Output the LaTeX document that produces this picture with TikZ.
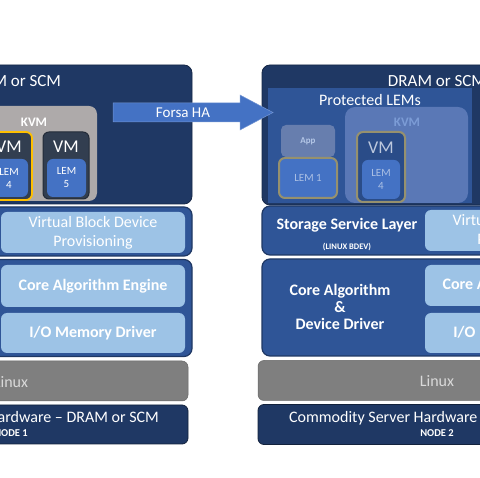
\documentclass[tikz,border=0pt]{standalone}
\usepackage{fontspec}
\setmainfont{Carlito}
\usetikzlibrary{positioning}

\definecolor{navy}{RGB}{31,56,100}
\definecolor{midblue}{RGB}{47,85,151}
\definecolor{lightblue}{RGB}{157,195,230}
\definecolor{lemblue}{RGB}{68,114,196}
\definecolor{kvmgrey}{RGB}{174,170,170}
\definecolor{vmdark}{RGB}{50,62,80}
\definecolor{linuxgrey}{RGB}{127,127,127}
\definecolor{lemgold}{RGB}{255,192,0}
\definecolor{khaki}{RGB}{150,145,110}
\definecolor{fadeblue}{RGB}{90,120,182}

\tikzset{
	box/.style={rectangle, inner sep=0pt, outer sep=0pt},
	memory/.style={box, rounded corners=8pt, draw=navy!70!black, line width=0.8pt, fill=navy},
	layer/.style={box, rounded corners=8pt, draw=navy, line width=1.2pt, fill=midblue},
	lightbox/.style={box, rounded corners=6pt, fill=lightblue, text=white, align=center, font=\fontsize{16}{19}\selectfont},
	boldbox/.style={lightbox, font=\fontsize{16}{19}\bfseries},
	linuxbox/.style={box, rounded corners=6pt, fill=linuxgrey, draw=linuxgrey!80!black, line width=0.5pt},
	hwbox/.style={box, rounded corners=6pt, fill=navy, draw=navy!60!black, line width=0.8pt},
	vmbox/.style={box, rounded corners=6pt, fill=vmdark, draw=vmdark!70!black, line width=1pt},
	lembox/.style={box, rounded corners=6pt, fill=lemblue, align=center, font=\fontsize{11}{13}\selectfont},
	txt/.style={inner sep=0pt, text=white, align=center},
}

\begin{document}
\begin{tikzpicture}[x=1pt, y=-1pt]
	\useasboundingbox (0,0) rectangle (480,478);
	\clip (0,0) rectangle (480,478);

	% node 1 (left)
	\node[memory, minimum width=355pt, minimum height=139pt] (mem1) at (14.5,134.5) {};
	\node[txt, font=\fontsize{17}{19}\selectfont] (dram1) at (12,81) {DRAM or SCM};
	\node[box, rounded corners=8pt, fill=kvmgrey, minimum width=125pt, minimum height=95pt] (kvm1) at (34.5,153.5) {};
	\node[txt, font=\fontsize{13}{15}\bfseries] (kvmlbl1) at (34,122) {KVM};
	\node[vmbox, draw=lemgold, line width=1.8pt, minimum width=46pt, minimum height=68pt] (vma) at (9,166) {};
	\node[txt, font=\fontsize{18}{20}\selectfont] (vmlbla) at (9,147) {VM};
	\node[lembox, text=white, minimum width=38pt, minimum height=38pt] (lema) at (9,178) {LEM\\4};
	\node[vmbox, minimum width=46pt, minimum height=67pt] (vmb) at (66,165.5) {};
	\node[txt, font=\fontsize{18}{20}\selectfont] (vmlblb) at (66,147) {VM};
	\node[lembox, text=white, minimum width=39pt, minimum height=38pt] (lemb) at (66.5,178) {LEM\\5};

	\node[layer, minimum width=355pt, minimum height=49pt] (vbdout1) at (14.5,231.5) {};
	\node[lightbox, minimum width=184pt, minimum height=41pt] (vbd1) at (93,232.5) {Virtual Block Device\\Provisioning};
	\node[layer, minimum width=355pt, minimum height=97pt] (coreout1) at (14.5,308) {};
	\node[boldbox, minimum width=184pt, minimum height=42pt] (engine1) at (93,286) {Core Algorithm Engine};
	\node[boldbox, minimum width=184pt, minimum height=40pt] (driver1) at (93,333) {I/O Memory Driver};
	\node[linuxbox, minimum width=355pt, minimum height=40pt] (linux1) at (10.5,381) {};
	\node[txt, text=white!85!black, font=\fontsize{16}{18}\selectfont] (linuxlbl1) at (11,382) {Linux};
	\node[hwbox, minimum width=355pt, minimum height=39pt] (hw1) at (10.5,424.5) {};
	\node[txt, font=\fontsize{16}{18}\selectfont] (hwlbl1) at (11,418) {Commodity Server Hardware -- DRAM or SCM};
	\node[txt, font=\fontsize{10.5}{12}\bfseries] (nodelbl1) at (11,433.5) {NODE 1};

	% node 2 (right)
	\node[memory, minimum width=355pt, minimum height=140pt] (mem2) at (439.5,135) {};
	\node[txt, font=\fontsize{17}{19}\selectfont] (dram2) at (437,81) {DRAM or SCM};
	\node[box, fill=midblue, minimum width=204pt, minimum height=115pt] (prot) at (370,145.5) {};
	\node[txt, font=\fontsize{16}{18}\selectfont] (protlbl) at (370,100) {Protected LEMs};
	\node[box, rounded corners=5pt, fill=fadeblue!85!white!90!black, text=lemblue!40!white, font=\fontsize{9}{10}\bfseries, minimum width=54pt, minimum height=32pt] (app) at (308,141) {App};
	\node[lembox, draw=khaki, line width=2pt, text=lemblue!45!white, minimum width=58pt, minimum height=40pt] (lem1) at (308,178) {LEM 1};
	\node[box, rounded corners=10pt, fill=fadeblue, minimum width=123pt, minimum height=96pt] (kvm2) at (406.5,155) {};
	\node[txt, text=lemblue!70!white, font=\fontsize{13}{15}\bfseries] (kvmlbl2) at (407,122) {KVM};
	\node[box, rounded corners=6pt, fill=midblue!90!black, draw=khaki, line width=2pt, minimum width=48pt, minimum height=70pt] (vm2) at (381,167) {};
	\node[txt, text=lemblue!30!white!85!gray, font=\fontsize{18}{20}\selectfont] (vmlbl2) at (381,148) {VM};
	\node[lembox, text=lemblue!45!white, minimum width=38pt, minimum height=39pt] (lem4) at (381,179.5) {LEM\\4};

	\node[layer, minimum width=355pt, minimum height=49pt] (ssl) at (439.5,230.5) {};
	\node[txt, font=\fontsize{16}{18}\bfseries] (ssllbl) at (347,225) {Storage Service Layer};
	\node[txt, font=\fontsize{8.5}{10}\bfseries] (bdevlbl) at (347,247) {(LINUX BDEV)};
	\node[lightbox, minimum width=184pt, minimum height=41pt] (vbd2) at (517,230.5) {Virtual Block Device\\Provisioning};
	\node[layer, minimum width=355pt, minimum height=97pt] (coreout2) at (439.5,307.5) {};
	\node[txt, font=\fontsize{16}{17}\bfseries] (corelbl2) at (340,307) {Core Algorithm\\\&\\Device Driver};
	\node[boldbox, minimum width=184pt, minimum height=41pt] (engine2) at (517,285.5) {Core Algorithm Engine};
	\node[boldbox, minimum width=184pt, minimum height=40pt] (driver2) at (517,333) {I/O Memory Driver};
	\node[linuxbox, minimum width=355pt, minimum height=40pt] (linux2) at (435.5,380.5) {};
	\node[txt, text=white!85!black, font=\fontsize{16}{18}\selectfont] (linuxlbl2) at (437,381) {Linux};
	\node[hwbox, minimum width=355pt, minimum height=40pt] (hw2) at (435.5,424.5) {};
	\node[txt, font=\fontsize{16}{18}\selectfont] (hwlbl2) at (437,418) {Commodity Server Hardware -- DRAM or SCM};
	\node[txt, font=\fontsize{10.5}{12}\bfseries] (nodelbl2) at (437,433.5) {NODE 2};

	% failover arrow
	\fill[lemblue, draw=lemblue!75!white, line width=0.5pt] (113,103) -- (240,103) -- (240,95) -- (273,112.5)
		-- (240,130) -- (240,122) -- (113,122) -- cycle;
	\node[txt, font=\fontsize{15}{17}\selectfont] (ha) at (183,112.5) {Forsa HA};
\end{tikzpicture}
\end{document}
